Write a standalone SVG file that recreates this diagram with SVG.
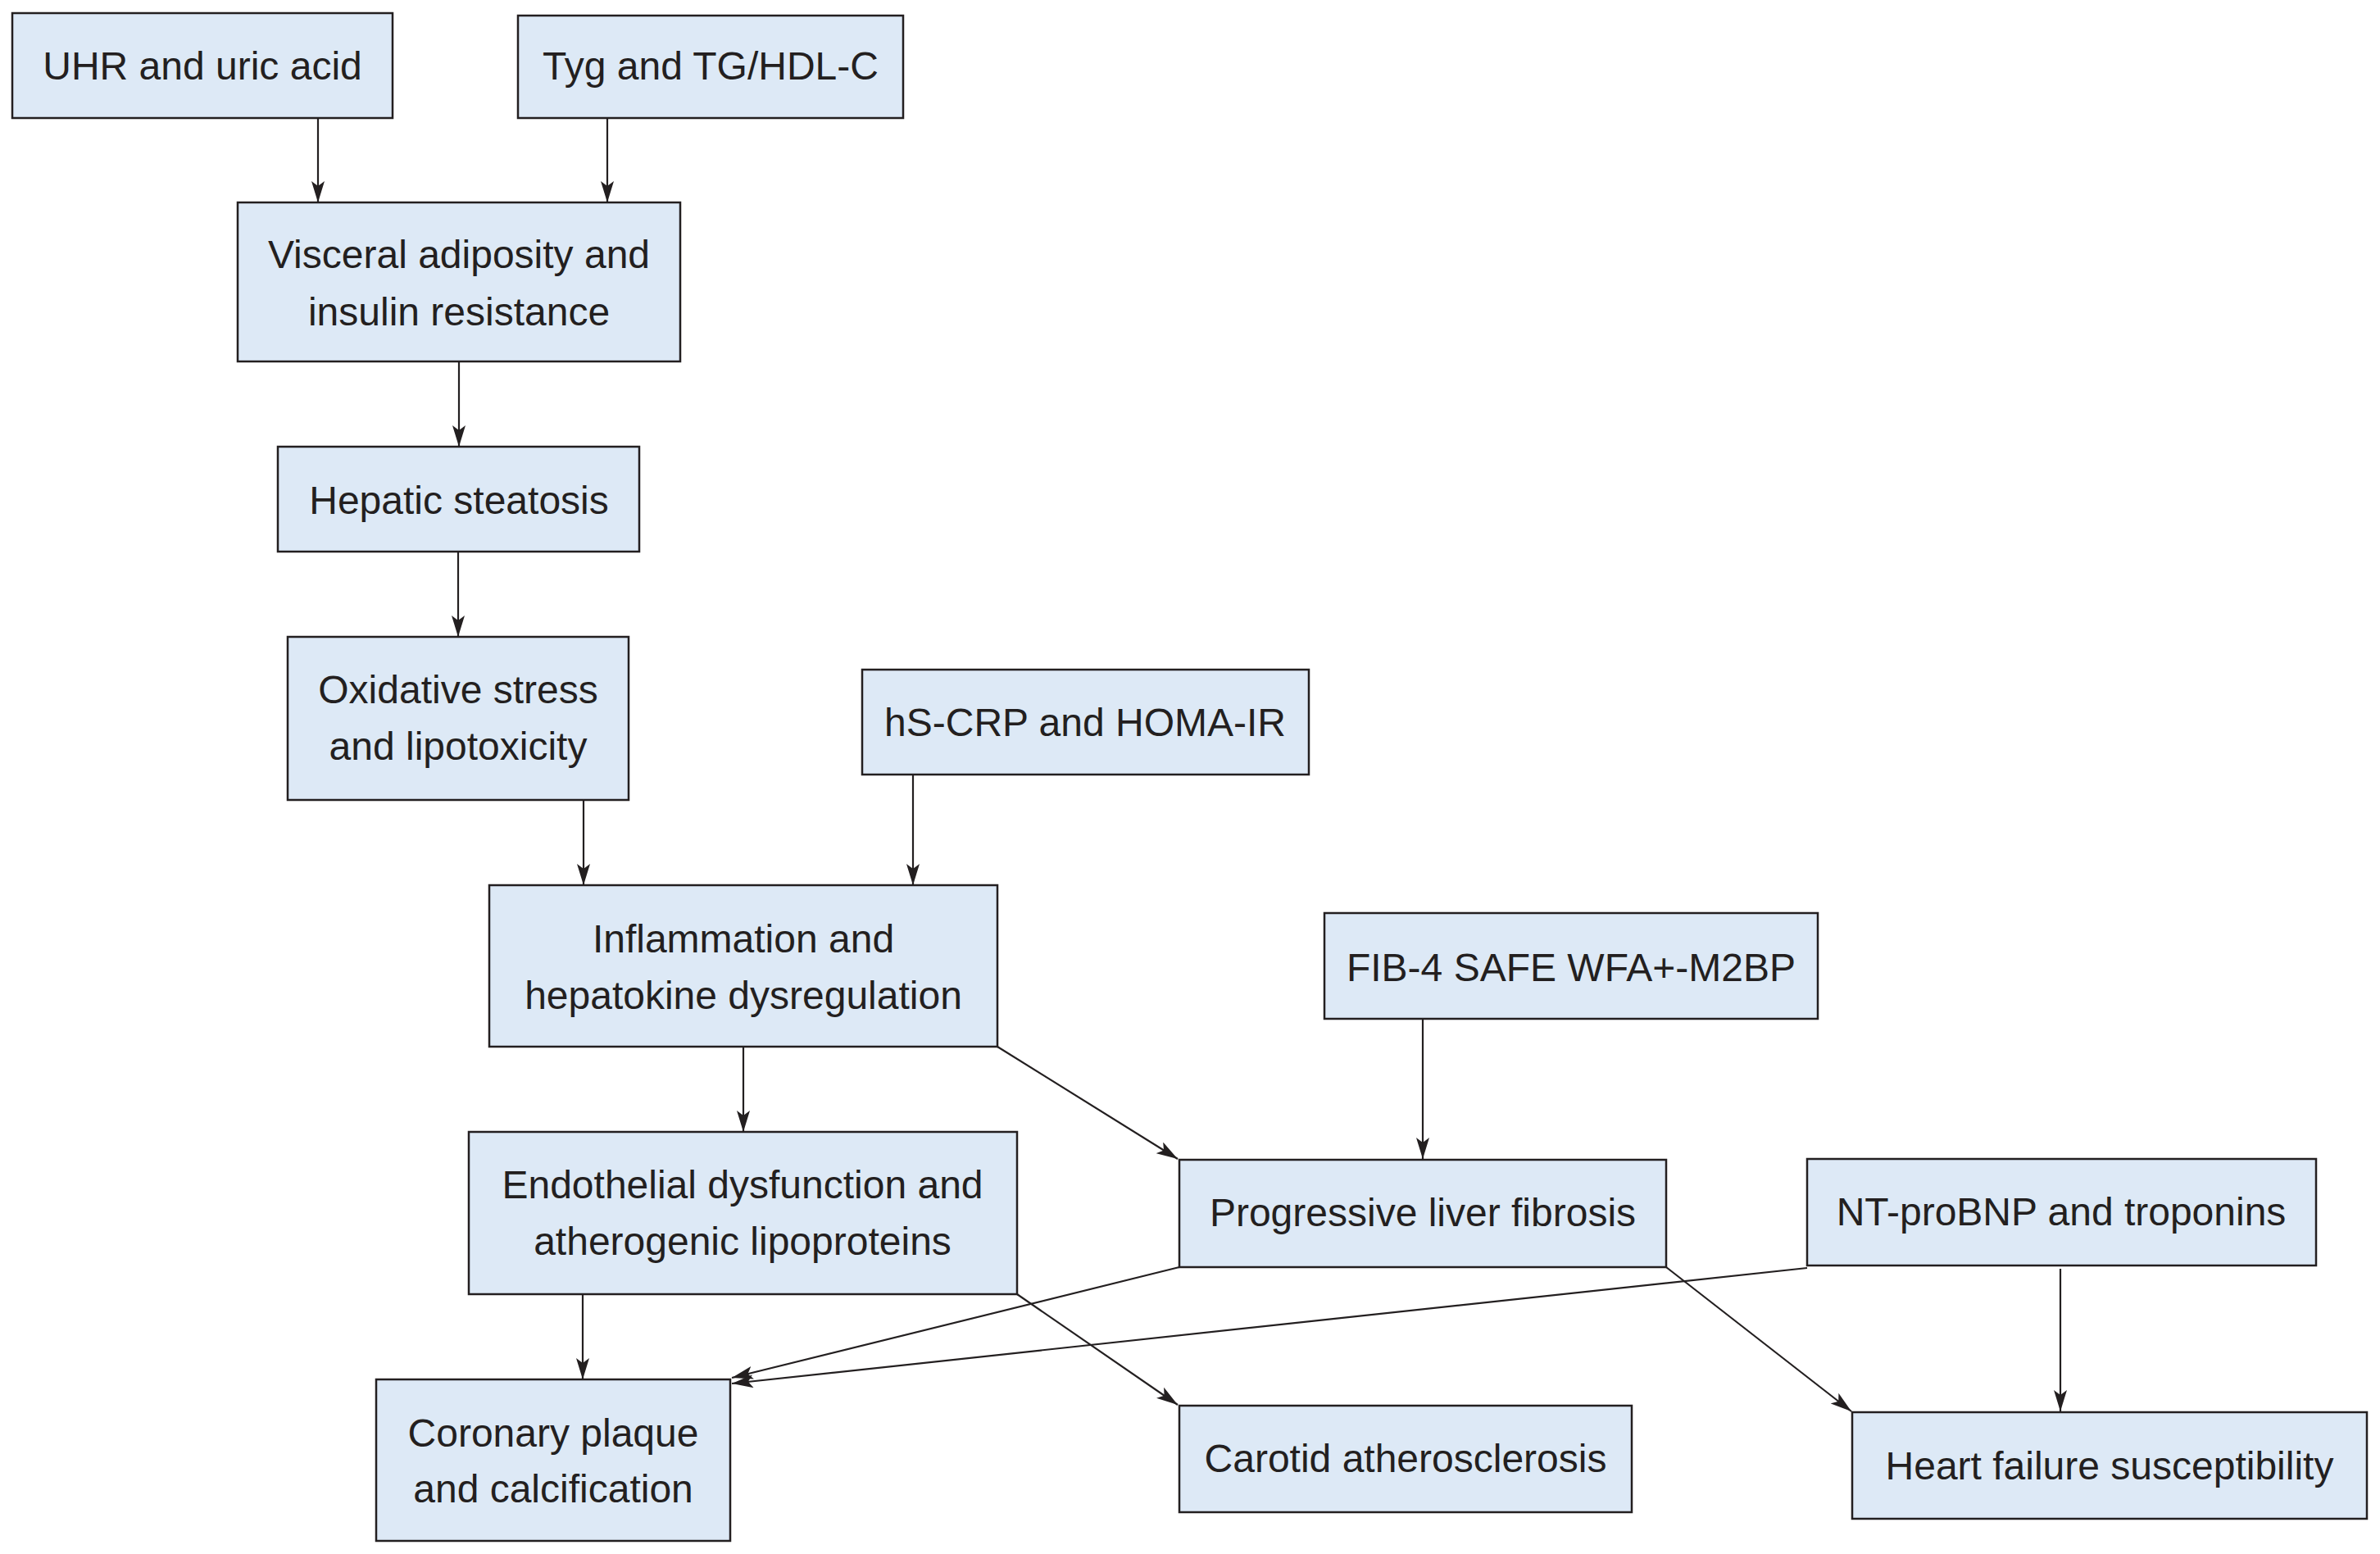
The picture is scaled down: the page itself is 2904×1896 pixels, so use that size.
<svg xmlns="http://www.w3.org/2000/svg" width="2904" height="1896" viewBox="0 0 2904 1896">
<style>
.box{fill:#dde9f6;stroke:#231f20;stroke-width:2.5}
.t{font-family:"Liberation Sans",Arial,sans-serif;font-size:48px;fill:#231f20;text-anchor:middle}
.c{fill:none;stroke:#231f20;stroke-width:2.2;marker-end:url(#ah)}
</style>
<defs>
<marker id="ah" viewBox="0 0 26 16" refX="26" refY="8" markerWidth="26" markerHeight="16" markerUnits="userSpaceOnUse" orient="auto">
<path d="M0,0 L26,8 L0,16 L6,8 Z" fill="#231f20"/>
</marker>
</defs>
<rect width="2904" height="1896" fill="#ffffff"/>
<g id="connectors">
<line class="c" x1="388" y1="144" x2="388" y2="247"/>
<line class="c" x1="741" y1="144" x2="741" y2="247"/>
<line class="c" x1="560" y1="441" x2="560" y2="545"/>
<line class="c" x1="559" y1="673" x2="559" y2="777"/>
<line class="c" x1="712" y1="976" x2="712" y2="1080"/>
<line class="c" x1="1114" y1="945" x2="1114" y2="1080"/>
<line class="c" x1="907" y1="1277" x2="907" y2="1381"/>
<line class="c" x1="1217" y1="1277" x2="1437" y2="1414"/>
<line class="c" x1="1736" y1="1243" x2="1736" y2="1414"/>
<line class="c" x1="711" y1="1579" x2="711" y2="1683"/>
<line class="c" x1="1241" y1="1579" x2="1437" y2="1714"/>
<line class="c" x1="1439" y1="1546" x2="893" y2="1681"/>
<line class="c" x1="2205" y1="1547" x2="893" y2="1688"/>
<line class="c" x1="2033" y1="1546" x2="2259" y2="1722"/>
<line class="c" x1="2514" y1="1548" x2="2514" y2="1722"/>
</g>
<g id="n-uhr"><rect class="box" x="15" y="16" width="464" height="128"/><text class="t" x="247" y="97">UHR and uric acid</text></g>
<g id="n-tyg"><rect class="box" x="632" y="19" width="470" height="125"/><text class="t" x="867" y="97">Tyg and TG/HDL-C</text></g>
<g id="n-visceral"><rect class="box" x="290" y="247" width="540" height="194"/><text class="t" x="560" y="327">Visceral adiposity and</text><text class="t" x="560" y="397">insulin resistance</text></g>
<g id="n-hepatic"><rect class="box" x="339" y="545" width="441" height="128"/><text class="t" x="560" y="627">Hepatic steatosis</text></g>
<g id="n-oxidative"><rect class="box" x="351" y="777" width="416" height="199"/><text class="t" x="559" y="858">Oxidative stress</text><text class="t" x="559" y="927">and lipotoxicity</text></g>
<g id="n-hscrp"><rect class="box" x="1052" y="817" width="545" height="128"/><text class="t" x="1324" y="898">hS-CRP and HOMA-IR</text></g>
<g id="n-inflammation"><rect class="box" x="597" y="1080" width="620" height="197"/><text class="t" x="907" y="1162">Inflammation and</text><text class="t" x="907" y="1231">hepatokine dysregulation</text></g>
<g id="n-fib4"><rect class="box" x="1616" y="1114" width="602" height="129"/><text class="t" x="1917" y="1197">FIB-4 SAFE WFA+-M2BP</text></g>
<g id="n-endothelial"><rect class="box" x="572" y="1381" width="669" height="198"/><text class="t" x="906" y="1462">Endothelial dysfunction and</text><text class="t" x="906" y="1531">atherogenic lipoproteins</text></g>
<g id="n-progressive"><rect class="box" x="1439" y="1415" width="594" height="131"/><text class="t" x="1736" y="1496">Progressive liver fibrosis</text></g>
<g id="n-ntprobnp"><rect class="box" x="2205" y="1414" width="621" height="130"/><text class="t" x="2515" y="1495">NT-proBNP and troponins</text></g>
<g id="n-coronary"><rect class="box" x="459" y="1683" width="432" height="197"/><text class="t" x="675" y="1765">Coronary plaque</text><text class="t" x="675" y="1833">and calcification</text></g>
<g id="n-carotid"><rect class="box" x="1439" y="1715" width="552" height="130"/><text class="t" x="1715" y="1796">Carotid atherosclerosis</text></g>
<g id="n-heart"><rect class="box" x="2260" y="1723" width="628" height="130"/><text class="t" x="2574" y="1805">Heart failure susceptibility</text></g>
</svg>
